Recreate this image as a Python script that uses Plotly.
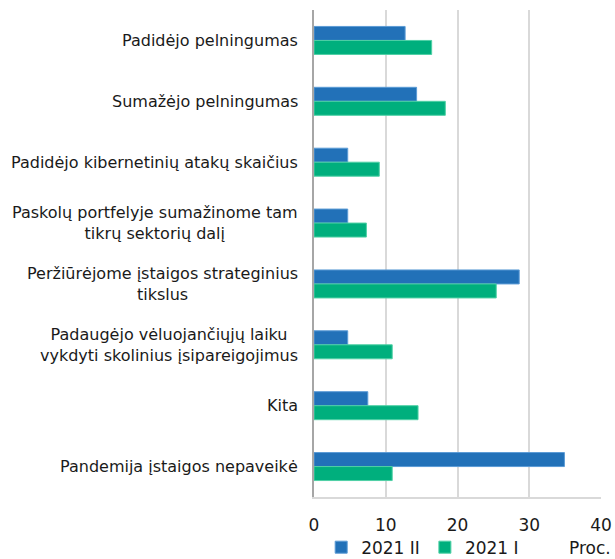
import plotly.graph_objects as go

categories = [
    "Padidėjo pelningumas",
    "Sumažėjo pelningumas",
    "Padidėjo kibernetinių atakų skaičius",
    "Paskolų portfelyje sumažinome tam<br>tikrų sektorių dalį",
    "Peržiūrėjome įstaigos strateginius<br>tikslus",
    "Padaugėjo vėluojančiųjų laiku<br>vykdyti skolinius įsipareigojimus",
    "Kita",
    "Pandemija įstaigos nepaveikė",
]
s_2021_II = [12.7, 14.3, 4.7, 4.7, 28.6, 4.7, 7.5, 34.9]
s_2021_I = [16.4, 18.3, 9.1, 7.3, 25.4, 10.9, 14.5, 10.9]
x_ticks = [0, 10, 20, 30, 40]

BLUE = "#2271B8"
GREEN = "#00AF7D"
FONT = "DejaVu Sans, Verdana, sans-serif"

fig = go.Figure()
fig.add_trace(go.Bar(
    y=categories, x=s_2021_II, name="2021 II", orientation="h",
    marker=dict(color=BLUE, line=dict(color="#5b9bd5", width=1)),
))
fig.add_trace(go.Bar(
    y=categories, x=s_2021_I, name="2021 I", orientation="h",
    marker=dict(color=GREEN, line=dict(color="#4fd0a5", width=1)),
))

annotations = [
    dict(text=c, x=0, xref="paper", y=c, yref="y", xanchor="right",
         yanchor="middle", align="center", xshift=-14, showarrow=False,
         font=dict(size=16, family=FONT, color="#1a1a1a"))
    for c in categories
]
annotations.append(dict(
    text="Proc.", xref="paper", yref="paper", x=1.042, y=-0.105,
    xanchor="right", yanchor="middle", showarrow=False,
    font=dict(size=17, family=FONT, color="#1a1a1a"),
))

fig.update_layout(
    width=615, height=559,
    margin=dict(l=314, r=14, t=10, b=62, autoexpand=False),
    paper_bgcolor="white", plot_bgcolor="white",
    barmode="group", bargap=0.54, bargroupgap=0,
    font=dict(family=FONT, color="#1a1a1a"),
    showlegend=True,
    legend=dict(
        orientation="h", x=0.025, xanchor="left", y=-0.067, yanchor="top",
        font=dict(size=17), itemwidth=30, tracegroupgap=0,
        bgcolor="rgba(0,0,0,0)",
    ),
    xaxis=dict(
        range=[0, 40], tickvals=x_ticks, showgrid=True, gridcolor="#d9d9d9",
        gridwidth=1.5, zeroline=False, showline=True, linecolor="#d9d9d9",
        linewidth=1.5, tickfont=dict(size=17), ticks="outside", ticklen=12,
        tickcolor="rgba(0,0,0,0)", automargin=False,
    ),
    yaxis=dict(
        autorange="reversed", showgrid=False, showline=True,
        linecolor="#a6a6a6", linewidth=2, showticklabels=False,
        automargin=False,
    ),
    annotations=annotations,
)

fig.write_html(
    "out.html",
    config={"displayModeBar": False},
    post_script="document.body.style.margin='0px';"
                "document.body.style.overflow='hidden';",
)
